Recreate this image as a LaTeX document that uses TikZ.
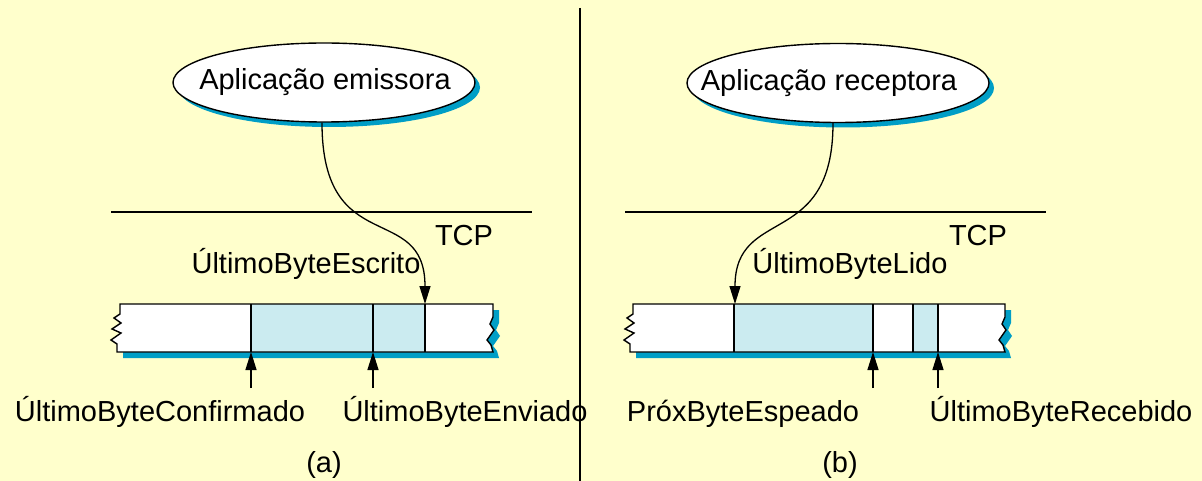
\documentclass[tikz,border=0pt]{standalone}
\usepackage{fontspec}
\setmainfont{Liberation Sans}
\usetikzlibrary{shapes.geometric,shadows,arrows.meta}
\definecolor{paper}{HTML}{FFFFCC}
\definecolor{shadowblue}{HTML}{009EC6}
\definecolor{cellblue}{HTML}{CBEBF0}

% outline of a byte buffer with torn ends: #1 = left x, #2 = right x
\newcommand\bufoutline[2]{(#1,304) -- (#2,304) -- (#2,317) -- ({#2-3},324) -- ({#2+1},330)
  -- ({#2-6},340) -- ({#2-2},345) -- (#2,352) -- ({#1-3},352) -- ({#1-3},344)
  -- ({#1-9},340) -- ({#1+1},333) -- ({#1-8},329) -- ({#1+1},323) -- ({#1-6},318)
  -- (#1,314) -- cycle}

\tikzset{
  every node/.style={font=\fontsize{29}{34}\selectfont},
  app/.style={ellipse, draw, line width=1.4pt, fill=white, minimum width=302pt,
    minimum height=79pt, inner sep=0pt,
    drop shadow={shadow xshift=5pt, shadow yshift=-5pt, fill=shadowblue, opacity=1}},
  lbl/.style={anchor=base, inner sep=0pt},
  ptr/.style={line width=1.3pt, -{Triangle[length=18pt,width=11pt]}},
  bufline/.style={line width=1.4pt},
  layer/.style={line width=1.2pt},
}

\begin{document}
\begin{tikzpicture}[x=1pt,y=-1pt]
  \fill[paper] (0,0) rectangle (1202,481);
  \useasboundingbox (0,0) rectangle (1202,481);

  % divider between the two halves
  \draw[line width=2pt] (580,8) -- (580,481);

  % ---------- (a) sender side ----------
  \node[app] (emit) at (324,82.5) {};
  \node[inner sep=0pt] (emittxt) at (325,82.5) {Aplicação emissora};
  \coordinate (tcpaL) at (111,212);
  \coordinate (tcpaR) at (532,212);
  \draw[layer] (tcpaL) -- (tcpaR);
  \node[lbl] (tcpa) at (464,245) {TCP};

  \fill[shadowblue, shift={(6,6)}] \bufoutline{120}{493};
  \fill[white] \bufoutline{120}{493};
  \fill[cellblue] (251,304) rectangle (425,352);
  \draw[bufline] (251,304) -- (251,352) (373,304) -- (373,352) (425,304) -- (425,352);
  \draw[bufline, line join=miter] \bufoutline{120}{493};

  \coordinate (wrote) at (425,304);
  \coordinate (acked) at (251,352);
  \coordinate (ackedtail) at (251,388);
  \coordinate (sent) at (373,352);
  \coordinate (senttail) at (373,388);

  \draw[ptr] ([xshift=-2pt]emit.south) .. controls (322,260) and (425,200) .. (wrote);
  \draw[ptr] (ackedtail) -- (acked);
  \draw[ptr] (senttail) -- (sent);

  \node[lbl] (lwrit) at (306,273) {ÚltimoByteEscrito};
  \node[lbl] (lconf) at (160,421) {ÚltimoByteConfirmado};
  \node[lbl] (lsent) at (465,421) {ÚltimoByteEnviado};
  \node[lbl] (capa) at (324,472) {(a)};

  % ---------- (b) receiver side ----------
  \node[app] (recv) at (838,83) {};
  \node[inner sep=0pt] (recvtxt) at (829,83) {Aplicação receptora};
  \coordinate (tcpbL) at (625,212);
  \coordinate (tcpbR) at (1046,212);
  \draw[layer] (tcpbL) -- (tcpbR);
  \node[lbl] (tcpb) at (978,245) {TCP};

  \fill[shadowblue, shift={(6,6)}] \bufoutline{633}{1005};
  \fill[white] \bufoutline{633}{1005};
  \fill[cellblue] (734,304) rectangle (873,352);
  \fill[cellblue] (913,304) rectangle (938,352);
  \draw[bufline] (734,304) -- (734,352) (873,304) -- (873,352)
                 (913,304) -- (913,352) (938,304) -- (938,352);
  \draw[bufline, line join=miter] \bufoutline{633}{1005};

  \coordinate (readp) at (735,304);
  \coordinate (expect) at (873,352);
  \coordinate (expecttail) at (873,388);
  \coordinate (rcvd) at (938,352);
  \coordinate (rcvdtail) at (938,388);

  \draw[ptr] ([xshift=-5pt]recv.south) .. controls (833,250) and (735,205) .. (readp);
  \draw[ptr] (expecttail) -- (expect);
  \draw[ptr] (rcvdtail) -- (rcvd);

  \node[lbl] (lread) at (850,273) {ÚltimoByteLido};
  \node[lbl] (lexp) at (743,421) {PróxByteEspeado};
  \node[lbl] (lrcv) at (1061,421) {ÚltimoByteRecebido};
  \node[lbl] (capb) at (840,472) {(b)};
\end{tikzpicture}
\end{document}
